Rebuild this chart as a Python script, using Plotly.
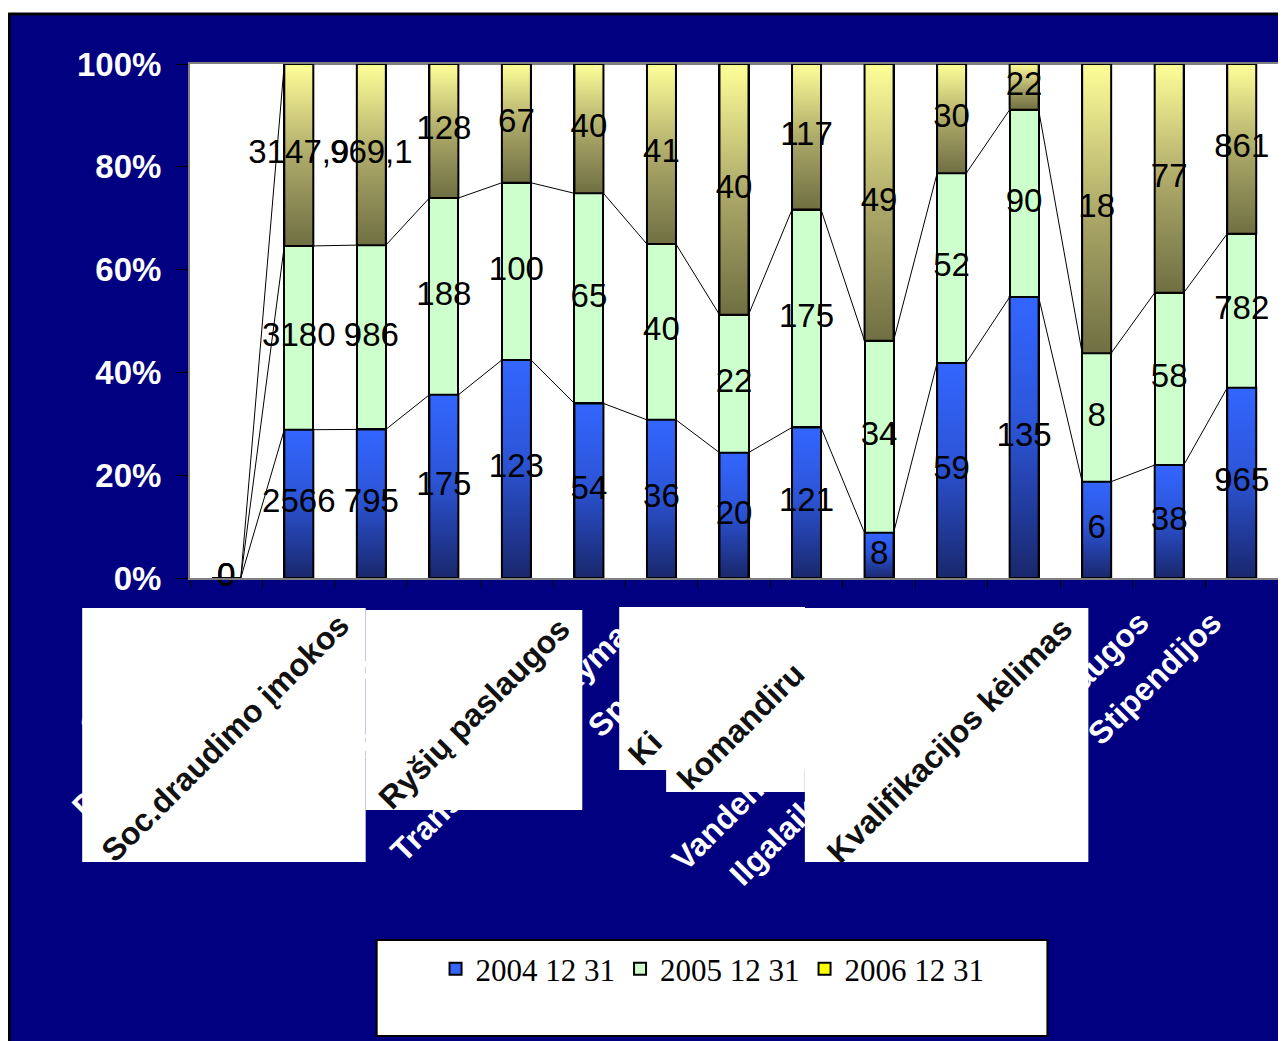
import plotly.graph_objects as go

# ---------------- data ----------------
categories = ["Subsidijos", "Darbo užmokestis", "Soc.draudimo įmokos", "Mityba",
              "Medikamentai", "Ryšių paslaugos", "Transporto išlaikymas", "Spaudiniai",
              "Kitos prekės", "Komandiruotės", "Vandentiekis, šildymas",
              "Ilgalaikio turto remontas", "Kvalifikacijos kėlimas", "Kitos paslaugos",
              "Stipendijos"]
series_names = ["2004 12 31", "2005 12 31", "2006 12 31"]
v2004 = [0, 2566, 795, 175, 123, 54, 36, 20, 121, 8, 59, 135, 6, 38, 965]
v2005 = [0, 3180, 986, 188, 100, 65, 40, 22, 175, 34, 52, 90, 8, 58, 782]
v2006 = [0, 3147.9, 969.1, 128, 67, 40, 41, 40, 117, 49, 30, 22, 18, 77, 861]
y_ticks = [0, 20, 40, 60, 80, 100]
y_tick_labels = ["0%", "20%", "40%", "60%", "80%", "100%"]
# text fragments visible on the pasted white label boxes
overlay_texts = ["Soc.draudimo įmokos", "Ryšių paslaugos", "Ki", "komandiru",
                 "Kvalifikacijos kėlimas"]

# ---------------- geometry (page pixels; the page body adds an 8px margin) ----------------
OFF = 8
FIG_W, FIG_H = 1286 - OFF, 1041 - OFF
PL, PR, PT, PB = 190, 1280, 64, 578          # plot area edges in page pixels
PW, PH = PR - PL, PB - PT


def px(xp):
    return (xp - PL) / PW


def py(yp):
    return (PB - yp) / PH


n = len(categories)
xs = list(range(n))
totals = [a + b + c for a, b, c in zip(v2004, v2005, v2006)]
s1 = [100 * a / t if t else 0 for a, t in zip(v2004, totals)]
s2 = [100 * b / t if t else 0 for b, t in zip(v2005, totals)]
s3 = [100 * c / t if t else 0 for c, t in zip(v2006, totals)]
c1 = s1
c2 = [a + b for a, b in zip(s1, s2)]
c3 = [a + b + c for a, b, c in zip(s1, s2, s3)]

BW = 0.4
NAVY = "#000080"
SANS = "Liberation Sans, Arial, sans-serif"
SERIF = "Liberation Serif, Times New Roman, serif"


def fmt(v):
    if float(v).is_integer():
        return str(int(v))
    return ("%g" % v).replace(".", ",")


fig = go.Figure()

colors = ["#3366ff", "#ccffcc", "#ffff00"]
for name, shares, col in zip(series_names, [s1, s2, s3], colors):
    fig.add_trace(go.Bar(
        x=xs, y=shares, name=name, width=BW,
        marker=dict(color=col, line=dict(color="black", width=2)),
        hoverinfo="skip"))

# gradient overlays for the blue and yellow segments
grad_blue = [[0, "#19276c"], [0.55, "#2c55d8"], [1, "#3366ff"]]
grad_yel = [[0, "#6f6f42"], [0.5, "#aeaa6a"], [1, "#ffff99"]]
for bases, tops, cs in [([0] * n, c1, grad_blue), (c2, c3, grad_yel)]:
    for i in range(n):
        if tops[i] - bases[i] <= 0:
            continue
        x0, x1 = i - BW / 2, i + BW / 2
        fig.add_trace(go.Scatter(
            x=[x0, x1, x1, x0, x0], y=[bases[i], bases[i], tops[i], tops[i], bases[i]],
            mode="lines", fill="toself",
            fillgradient=dict(type="vertical", colorscale=cs),
            line=dict(color="black", width=2),
            showlegend=False, hoverinfo="skip"))

# series lines between bars
lx, ly = [], []
for cum in (c1, c2, c3):
    for i in range(n - 1):
        lx += [i + BW / 2, i + 1 - BW / 2, None]
        ly += [cum[i], cum[i + 1], None]
fig.add_trace(go.Scatter(x=lx, y=ly, mode="lines", line=dict(color="black", width=1),
                         showlegend=False, hoverinfo="skip"))

# data labels
tx, ty, tt = [], [], []
for vals, bases, tops in [(v2004, [0] * n, c1), (v2005, c1, c2), (v2006, c2, c3)]:
    for i in range(n):
        tx.append(i)
        ty.append((bases[i] + tops[i]) / 2)
        tt.append(fmt(vals[i]))
fig.add_trace(go.Scatter(x=tx, y=ty, text=tt, mode="text", cliponaxis=False,
                         textfont=dict(family=SANS, size=33, color="black"),
                         showlegend=False, hoverinfo="skip"))

shapes = []
# white page strip at top, black frame lines
shapes.append(dict(type="rect", xref="paper", yref="paper", layer="above",
                   x0=px(0), x1=px(1300), y0=py(0), y1=py(13),
                   fillcolor="white", line=dict(width=0)))
shapes.append(dict(type="line", xref="paper", yref="paper", layer="above",
                   x0=px(8), x1=px(1300), y0=py(14), y1=py(14),
                   line=dict(color="black", width=3)))
shapes.append(dict(type="line", xref="paper", yref="paper", layer="above",
                   x0=px(9), x1=px(9), y0=py(13), y1=py(1060),
                   line=dict(color="black", width=3)))
# pasted white label boxes
boxes = [(82, 366, 608, 862), (366, 583, 610, 810), (620, 806, 607, 770),
         (667, 806, 607, 792), (806, 1090, 608, 862)]
for x0, x1, y0, y1 in boxes:
    shapes.append(dict(type="rect", xref="paper", yref="paper", layer="above",
                       x0=px(x0), x1=px(x1), y0=py(y0), y1=py(y1),
                       fillcolor="white", line=dict(width=0)))
# legend box
shapes.append(dict(type="rect", xref="paper", yref="paper", layer="above",
                   x0=px(377), x1=px(1049), y0=py(940), y1=py(1036),
                   fillcolor="white", line=dict(color="black", width=2)))

annotations = []
overlay_centres = [(225, 738), (475, 713), (646, 748), (742, 726), (951, 740)]
for txt, (cx, cy) in zip(overlay_texts, overlay_centres):
    annotations.append(dict(xref="paper", yref="paper", x=px(cx), y=py(cy),
                            text=txt, showarrow=False, textangle=-45,
                            xanchor="center", yanchor="middle",
                            font=dict(family=SANS, size=32, color="#111111",
                                      weight="bold")))

fig.update_layout(
    width=FIG_W, height=FIG_H, autosize=False,
    margin=dict(l=PL - OFF, r=FIG_W - (PR - OFF), t=PT - OFF, b=FIG_H - (PB - OFF), pad=0),
    paper_bgcolor=NAVY, plot_bgcolor="white",
    barmode="stack", bargap=0.6,
    showlegend=True,
    legend=dict(orientation="h", x=px(436), y=py(942), xanchor="left", yanchor="top",
                traceorder="normal",
                bgcolor="rgba(0,0,0,0)", borderwidth=0,
                font=dict(family=SERIF, size=31, color="black")),
    shapes=shapes, annotations=annotations,
    xaxis=dict(range=[-0.5, n - 0.5], tickmode="array",
               tickvals=[i - 0.41 for i in xs], ticktext=categories,
               tickangle=-45, ticks="", showgrid=False, zeroline=False,
               ticklabelstandoff=11,
               showline=True, linecolor="#808080", linewidth=2, mirror=True,
               tickfont=dict(family=SANS, size=32, color="white", weight="bold"),
               minor=dict(tickmode="linear", tick0=-0.5, dtick=1, ticks="outside",
                          ticklen=8, tickcolor="black", tickwidth=1, showgrid=False)),
    yaxis=dict(range=[0, 100], tickmode="array", tickvals=y_ticks, ticktext=y_tick_labels,
               ticks="outside", ticklen=12, tickcolor="black", tickwidth=1,
               showgrid=False, zeroline=False, ticklabelstandoff=8,
               showline=True, linecolor="#808080", linewidth=2, mirror=True,
               tickfont=dict(family=SANS, size=33, color="white", weight="bold")),
)

fig.write_html("out.html")
